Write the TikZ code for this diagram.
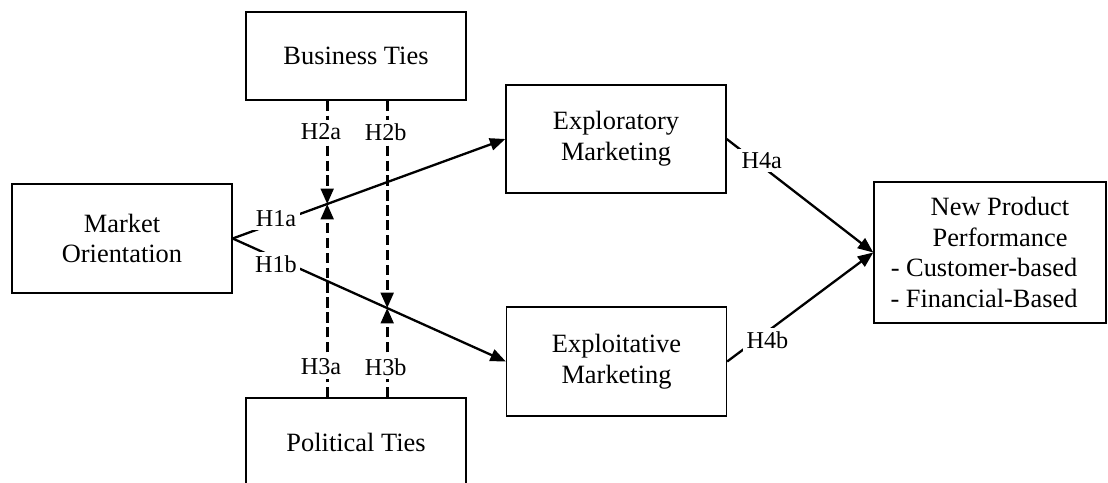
\documentclass[tikz,border=0pt]{standalone}
\usepackage{fontspec}
\setmainfont{Liberation Serif}
\usetikzlibrary{arrows.meta,calc}
\begin{document}
\begin{tikzpicture}[x=0.4545pt,y=-0.4545pt,
  box/.style={draw,line width=0.6pt,inner sep=0pt,align=center,font=\fontsize{12}{14}\selectfont},
  hyp/.style={fill=white,inner sep=1.6pt,font=\fontsize{11}{13}\selectfont},
  effect/.style={line width=1.05pt,-{Triangle[length=7pt,width=5.6pt]}},
  moder/.style={line width=1.2pt,dash pattern=on 4.6pt off 2.2pt,-{Triangle[length=7pt,width=5.8pt]}}]
\useasboundingbox (0,0) rectangle (1108,483);
\clip (0,0) rectangle (1108,483);

\node[box,minimum width=100pt,minimum height=49.5pt] (mo) at (122,238.5) {Market\\Orientation};
\node[box,minimum width=100pt,minimum height=40pt] (bt) at (356,56) {Business Ties};
\node[box,minimum width=100pt,minimum height=40pt] (pt) at (356,442) {Political Ties};
\node[box,minimum width=100pt,minimum height=49.1pt] (ex) at (616,139) {Exploratory\\Marketing};
\node[box,minimum width=100pt,minimum height=49.5pt] (ei) at (616.5,361.5) {Exploitative\\Marketing};
\node[box,minimum width=105.5pt,minimum height=64.1pt] (npp) at (990,252.5)
  {\hspace*{9.1pt}New Product\\\hspace*{9.1pt}Performance\\- Customer-based\kern5.45pt\\- Financial-Based\kern5.45pt};

\coordinate (m1) at ($(mo.east)!0.3467!(ex.west)$);
\coordinate (m2) at ($(mo.east)!0.5657!(ei.west)$);

\draw[effect] (mo.east) -- (ex.west);
\draw[effect] (mo.east) -- (ei.west);
\draw[effect] (ex.east) -- (npp.west);
\draw[effect] (ei.east) -- (npp.west);
\draw[moder] (bt.south -| m1) -- (m1);
\draw[moder] (pt.north -| m1) -- (m1);
\draw[moder] (bt.south -| m2) -- (m2);
\draw[moder] (pt.north -| m2) -- (m2);

\node[hyp] (h1a) at (276,218.5) {H1a};
\node[hyp] (h1b) at (276,264.5) {H1b};
\node[hyp] (h2a) at (321,132) {H2a};
\node[hyp] (h2b) at (385.7,132) {H2b};
\node[hyp] (h3a) at (321,367) {H3a};
\node[hyp] (h3b) at (385.7,367) {H3b};
\node[hyp] (h4a) at (761.7,160.5) {H4a};
\node[hyp] (h4b) at (767.5,340) {H4b};
\end{tikzpicture}
\end{document}
